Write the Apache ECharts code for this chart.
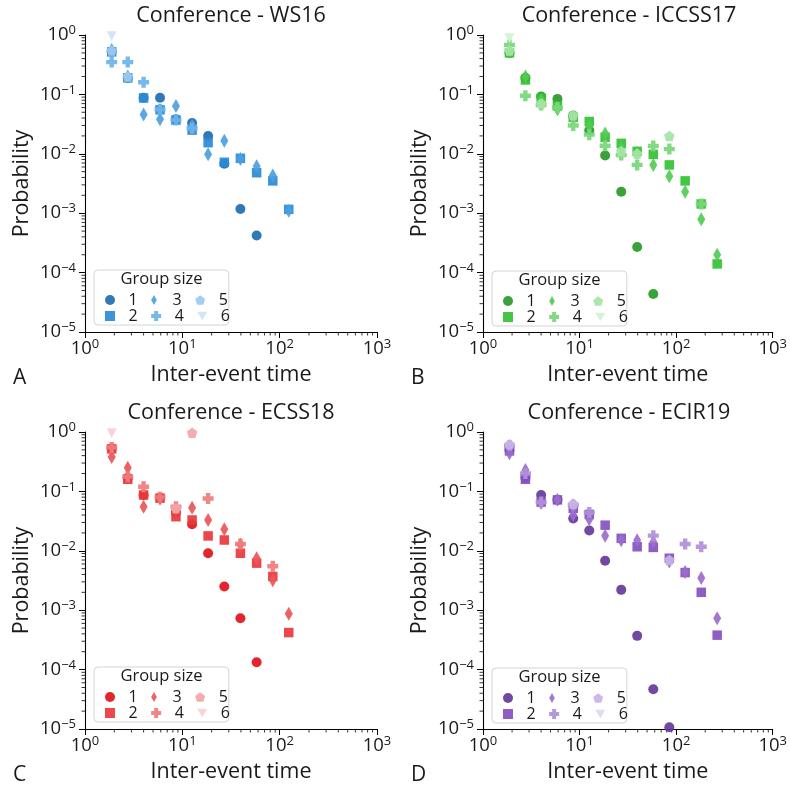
<!DOCTYPE html>
<html>
<head>
<meta charset="utf-8">
<title>Inter-event time distributions</title>
<script src="https://cdn.jsdelivr.net/npm/echarts@6/dist/echarts.min.js"></script>
<style>
  html, body { margin: 0; padding: 0; background: #fff; }
  #chart { width: 790px; height: 791px; }
</style>
</head>
<body>
<div id="chart"></div>
<script>
// Log-binned inter-event times (bin centres)
const binX = [1.88, 2.75, 4.0, 5.9, 8.6, 12.6, 18.4, 27, 39.5, 58, 85, 124, 182, 266];

// Conference - WS16, probability per bin for each group size
const ws16G1 = [0.53, 0.19, 0.088, 0.088, 0.038, 0.033, 0.020, 0.0068, 0.00118, 0.00042, null, null, null, null];
const ws16G2 = [0.52, 0.19, 0.087, 0.055, 0.037, 0.025, 0.0154, 0.0072, 0.0084, 0.0048, 0.0035, 0.00116, null, null];
const ws16G3 = [0.56, 0.20, 0.046, 0.038, 0.064, 0.030, 0.0098, 0.0166, 0.0082, 0.0062, 0.0043, 0.0011, null, null];
const ws16G4 = [0.35, 0.35, 0.16, 0.056, 0.037, 0.027, null, null, null, null, null, null, null, null];
const ws16G5 = [0.55, 0.20, null, null, null, null, null, null, null, null, null, null, null, null];
const ws16G6 = [0.95, null, null, null, null, null, null, null, null, null, null, null, null, null];

// Conference - ICCSS17
const iccss17G1 = [0.50, 0.19, 0.092, 0.084, 0.044, 0.025, 0.0094, 0.0023, 0.00027, 0.0000437, null, null, null, null];
const iccss17G2 = [0.50, 0.175, 0.086, 0.064, 0.041, 0.035, 0.019, 0.015, 0.011, 0.0098, 0.0065, 0.0035, 0.00143, 0.00014];
const iccss17G3 = [0.52, 0.20, 0.080, 0.056, 0.041, 0.029, 0.022, 0.0124, 0.0104, 0.0065, 0.0042, 0.0023, 0.00079, 0.0002];
const iccss17G4 = [0.68, 0.095, 0.066, 0.060, 0.030, 0.021, 0.0137, 0.0095, 0.0065, 0.0135, 0.012, null, 0.00143, null];
const iccss17G5 = [0.55, null, 0.070, null, 0.045, null, null, 0.011, 0.010, null, 0.020, null, null, null];
const iccss17G6 = [0.88, null, null, null, null, null, null, null, null, null, null, null, null, null];

// Conference - ECSS18
const ecss18G1 = [0.53, 0.17, 0.087, 0.078, 0.045, 0.028, 0.0091, 0.0025, 0.00073, 0.000133, null, null, null, null];
const ecss18G2 = [0.52, 0.16, 0.087, 0.077, 0.0375, 0.033, 0.0178, 0.0152, 0.0091, 0.0062, 0.0037, 0.00042, null, null];
const ecss18G3 = [0.38, 0.25, 0.055, 0.075, 0.049, 0.053, 0.033, 0.023, 0.0126, 0.0075, 0.0032, 0.00087, null, null];
const ecss18G4 = [0.55, 0.177, 0.12, 0.080, 0.055, null, 0.076, null, 0.013, null, 0.0055, null, null, null];
const ecss18G5 = [null, null, null, null, 0.052, 0.97, null, null, null, null, null, null, null, null];
const ecss18G6 = [0.95, null, null, null, null, null, null, null, null, null, null, null, null, null];

// Conference - ECIR19
const ecir19G1 = [0.50, 0.17, 0.087, 0.072, 0.035, 0.022, 0.0068, 0.0022, 0.00037, 0.0000467, 0.0000107, null, null, null];
const ecir19G2 = [0.48, 0.16, 0.066, 0.072, 0.052, 0.041, 0.027, 0.0162, 0.0117, 0.0114, 0.0075, 0.0043, 0.0020, 0.00038];
const ecir19G3 = [0.44, 0.23, 0.064, 0.072, 0.040, 0.034, 0.018, 0.015, 0.015, 0.014, 0.0066, 0.0044, 0.0035, 0.00073];
const ecir19G4 = [0.59, 0.20, 0.066, null, 0.059, 0.044, null, null, null, 0.018, null, 0.013, 0.0117, null];
const ecir19G5 = [0.62, null, null, null, 0.062, null, null, null, null, null, 0.0070, null, null, null];
const ecir19G6 = [null, null, null, null, null, null, null, null, null, null, null, null, null, null];

const groupLabels = ['1', '2', '3', '4', '5', '6'];

// Axis tick values for the log scales
const xMajor = [1, 10, 100, 1000];
const yMajor = [1e-5, 1e-4, 1e-3, 1e-2, 1e-1, 1];

const FONT = '"Open Sans", "Noto Sans", sans-serif';
const INK = '#1a1a1a';

const panels = [
  { key: 'A', title: 'Conference - WS16', series: [ws16G1, ws16G2, ws16G3, ws16G4, ws16G5, ws16G6],
    colors: ['#1f6eb0', '#2a8bd6', '#4c9fe0', '#6eb3e8', '#9ccbf0', '#cde4f8'],
    grid: { left: 85, top: 35 }, legend: { x: 94, y: 270 } },
  { key: 'B', title: 'Conference - ICCSS17', series: [iccss17G1, iccss17G2, iccss17G3, iccss17G4, iccss17G5, iccss17G6],
    colors: ['#2a9a2a', '#33c133', '#52cc52', '#7ad77a', '#a6e4a6', '#d3f2d3'],
    grid: { left: 483, top: 35 }, legend: { x: 492, y: 271 } },
  { key: 'C', title: 'Conference - ECSS18', series: [ecss18G1, ecss18G2, ecss18G3, ecss18G4, ecss18G5, ecss18G6],
    colors: ['#e0141a', '#e8383b', '#ec5658', '#f07c7e', '#f4a5a6', '#f9d0d1'],
    grid: { left: 85, top: 432 }, legend: { x: 94, y: 667 } },
  { key: 'D', title: 'Conference - ECIR19', series: [ecir19G1, ecir19G2, ecir19G3, ecir19G4, ecir19G5, ecir19G6],
    colors: ['#65389a', '#8550c0', '#9a6dcc', '#b08fd8', '#c9b2e6', '#e2d6f2'],
    grid: { left: 483, top: 432 }, legend: { x: 492, y: 668 } }
];

const GRID_W = 292, GRID_H = 297;
const LEGEND_W = 135;

// Marker per group size: circle, square, thin diamond, plus, pentagon, down triangle
const markers = [
  { symbol: 'circle', size: 10 },
  { symbol: 'rect', size: 9.5 },
  { symbol: 'path://M4,0L8,7L4,14L0,7Z', size: [8, 14] },
  { symbol: 'path://M3,0H7V3H10V7H7V10H3V7H0V3H3Z', size: 11 },
  { symbol: 'path://M5,0L10,3.63L8.09,9.51H1.91L0,3.63Z', size: 10.5 },
  { symbol: 'path://M0,0H10L5,8.66Z', size: 10 }
];

function expLabel(v) {
  const e = Math.round(Math.log10(v));
  const s = e < 0 ? '\u2212' + (-e) : String(e);
  return '{b|10}{s|' + s + '}';
}
const labelRich = {
  b: { fontSize: 18.5, lineHeight: 22, fontFamily: FONT, color: INK },
  s: { fontSize: 13, lineHeight: 14, verticalAlign: 'top', fontFamily: FONT, color: INK }
};

// minor ticks at 2..9 x 10^k
function minorValues(lo, hi) {
  const out = [];
  for (let k = lo; k < hi; k++) {
    for (let m = 2; m <= 9; m++) out.push(m * Math.pow(10, k));
  }
  return out;
}
const xMinor = minorValues(0, 3);
const yMinor = minorValues(-5, 0);

const option = {
  animation: false,
  backgroundColor: '#fff',
  textStyle: { fontFamily: FONT },
  grid: [], xAxis: [], yAxis: [], series: [], legend: [], graphic: []
};

panels.forEach((p, i) => {
  option.grid.push({ left: p.grid.left, top: p.grid.top, width: GRID_W, height: GRID_H });

  option.xAxis.push({
    gridIndex: i, type: 'log', logBase: 10, min: xMajor[0], max: xMajor[xMajor.length - 1],
    axisLine: { show: true, lineStyle: { color: '#000', width: 1.1 } },
    axisTick: { show: true, inside: false, length: 6, lineStyle: { color: '#000', width: 1 } },
    splitLine: { show: false },
    axisLabel: { margin: 6, formatter: expLabel, rich: labelRich },
    name: 'Inter-event time', nameLocation: 'middle', nameGap: 32,
    nameTextStyle: { fontSize: 21.5, color: INK, fontFamily: FONT }
  });
  option.yAxis.push({
    gridIndex: i, type: 'log', logBase: 10, min: yMajor[0], max: yMajor[yMajor.length - 1],
    axisLine: { show: true, lineStyle: { color: '#000', width: 1.1 } },
    axisTick: { show: true, inside: false, length: 6, lineStyle: { color: '#000', width: 1 } },
    splitLine: { show: false },
    axisLabel: { margin: 9, formatter: expLabel, rich: labelRich },
    name: 'Probability', nameLocation: 'middle', nameGap: 52, nameRotate: 90,
    nameTextStyle: { fontSize: 21.5, color: INK, fontFamily: FONT }
  });

  // minor ticks drawn through the axis scales
  option.series.push({
    type: 'custom', xAxisIndex: i, yAxisIndex: i, silent: true, clip: false, z: 1,
    data: xMinor.map(v => [v, yMajor[0]]),
    renderItem: (params, api) => {
      const pt = api.coord([api.value(0), api.value(1)]);
      return { type: 'line', shape: { x1: pt[0], y1: pt[1], x2: pt[0], y2: pt[1] + 3.5 },
               style: { stroke: '#000', lineWidth: 0.8 } };
    }
  });
  option.series.push({
    type: 'custom', xAxisIndex: i, yAxisIndex: i, silent: true, clip: false, z: 1,
    data: yMinor.map(v => [xMajor[0], v]),
    renderItem: (params, api) => {
      const pt = api.coord([api.value(0), api.value(1)]);
      return { type: 'line', shape: { x1: pt[0] - 3.5, y1: pt[1], x2: pt[0], y2: pt[1] },
               style: { stroke: '#000', lineWidth: 0.8 } };
    }
  });

  p.series.forEach((vals, g) => {
    const data = [];
    vals.forEach((v, j) => { if (v != null) data.push([binX[j], v]); });
    option.series.push({
      type: 'scatter', name: p.key + groupLabels[g], xAxisIndex: i, yAxisIndex: i,
      symbol: markers[g].symbol, symbolSize: markers[g].size, symbolKeepAspect: false,
      itemStyle: { color: p.colors[g], opacity: 0.92 },
      data: data, z: 2 + g
    });
  });

  // legend: two rows (1,3,5 / 2,4,6) inside one framed box
  const legText = { fontSize: 16, lineHeight: 16, color: INK, fontFamily: FONT, padding: [0, 0, 0, 8.5] };
  option.legend.push({
    left: p.legend.x, top: p.legend.y, orient: 'horizontal',
    padding: [22, 1, 17, 11], itemWidth: 10, itemHeight: 10, itemGap: 13.5,
    backgroundColor: '#fff', borderColor: '#d4d4d4', borderWidth: 1, borderRadius: 4,
    selectedMode: false, textStyle: legText, z: 8,
    formatter: n => n.slice(1),
    data: [p.key + '1', p.key + '3', p.key + '5']
  });
  option.legend.push({
    left: p.legend.x + 11, top: p.legend.y + 38, orient: 'horizontal',
    padding: 0, itemWidth: 10, itemHeight: 10, itemGap: 13.5,
    selectedMode: false, textStyle: legText, z: 9,
    formatter: n => n.slice(1),
    data: [p.key + '2', p.key + '4', p.key + '6']
  });

  option.graphic.push({
    type: 'text', z: 100, x: p.legend.x + LEGEND_W / 2, y: p.legend.y + 1,
    style: { text: 'Group size', fontSize: 16.5, fontFamily: FONT, fill: INK, textAlign: 'center', textVerticalAlign: 'top' }
  });
  option.graphic.push({
    type: 'text', z: 100, x: p.grid.left + GRID_W / 2, y: p.grid.top - 30,
    style: { text: p.title, fontSize: 21.5, fontFamily: FONT, fill: INK, textAlign: 'center', textVerticalAlign: 'top' }
  });
  option.graphic.push({
    type: 'text', z: 100, x: p.grid.left - 72, y: p.grid.top + GRID_H + 36,
    style: { text: p.key, fontSize: 21, fontFamily: FONT, fill: INK, textAlign: 'left', textVerticalAlign: 'top' }
  });
});

const chart = echarts.init(document.getElementById('chart'), null, { renderer: 'canvas' });
chart.setOption(option);
</script>
</body>
</html>
